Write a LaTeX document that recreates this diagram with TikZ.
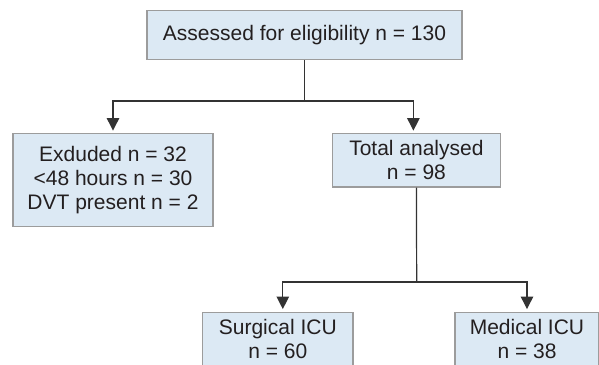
\documentclass[tikz,border=0pt]{standalone}
\usepackage{fontspec}
\setmainfont{Liberation Sans}
\usetikzlibrary{arrows.meta}
\definecolor{boxfill}{HTML}{DCE9F4}
\definecolor{boxline}{HTML}{9C9C9C}
\definecolor{conn}{HTML}{333333}
\definecolor{txt}{HTML}{231F20}
\begin{document}
\begin{tikzpicture}[x=1pt,y=-1pt,
  flowbox/.style={draw=boxline, fill=boxfill, line width=1.1pt, rectangle,
    inner sep=0pt, align=center, text=txt,
    font=\fontsize{21}{24}\selectfont},
  link/.style={draw=conn, line width=1.2pt},
  arr/.style={link, -{Triangle[width=12.5pt,length=12.5pt]}, shorten >=2.5pt}]
\useasboundingbox (0,0) rectangle (599,364);
\node[flowbox, minimum width=315pt, minimum height=49pt] (top) at (304.5,35.3) {Assessed for eligibility n = 130};
\node[flowbox, minimum width=200pt, minimum height=92.8pt] (excl) at (113,180) {Exduded n = 32\\<48 hours n = 30\\DVT present n = 2};
\node[flowbox, minimum width=167.3pt, minimum height=53.3pt] (total) at (416.4,160.3) {Total analysed\\n = 98};
\node[flowbox, minimum width=150.3pt, minimum height=53pt] (surg) at (277.8,338.6) {Surgical ICU\\n = 60};
\node[flowbox, minimum width=144pt, minimum height=53pt] (med) at (527,338.6) {Medical ICU\\n = 38};
\coordinate (j1) at (304.5,101);
\coordinate (j2) at (416.7,282);
\draw[link] (top.south) -- (j1);
\draw[arr] (j1) -| (excl.north);
\draw[arr] (j1) -| ([xshift=-3pt]total.north);
\draw[link] (total.south) -- (j2);
\draw[arr] (j2) -| ([xshift=5pt]surg.north);
\draw[arr] (j2) -| (med.north);
\end{tikzpicture}
\end{document}
